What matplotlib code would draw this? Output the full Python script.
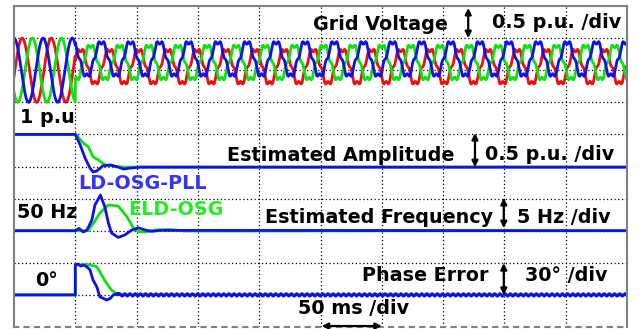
import numpy as np
import matplotlib.pyplot as plt

# all coordinates in scope divisions (10 x 10 grid), time 50 ms/div
t_fault = 1.0

# grid voltage (0.5 p.u./div, centre line at 8 div)
v_center = 8.0
v_period = 0.475            # div per cycle
v_amp_pre = 1.0
v_amp_post = 0.54
v_h5_post = -0.15           # 5th harmonic, relative to fundamental
v_names = ['red', 'green', 'blue']
v_lag = [0.28, 0.63, 0.0]   # cycles
v_dc_post = [0.11, 0.24, 0.35]
v_colors = ['#ee1010', '#10e010', '#1010e8']

# estimated amplitude (1 p.u. at 6 div, 0.5 p.u./div)
amp_t_green = [0, 1.0, 1.02, 1.13, 1.21, 1.29, 1.38, 1.48, 1.62, 1.8, 10]
amp_v_green = [6.0, 6.0, 5.98, 5.73, 5.62, 5.30, 5.20, 5.05, 5.01, 4.98, 4.98]
amp_t_blue = [0, 1.0, 1.08, 1.16, 1.24, 1.29, 1.35, 1.45, 1.57, 1.70, 1.79, 1.89, 2.06, 10]
amp_v_blue = [6.0, 6.0, 5.67, 5.26, 4.95, 4.83, 4.86, 5.02, 5.05, 4.98, 4.92, 4.95, 4.98, 4.98]

# estimated frequency (50 Hz at 3 div, 5 Hz/div)
freq_t_green = [0, 1.0, 1.21, 1.31, 1.40, 1.54, 1.70, 1.84, 1.95, 2.03, 2.14, 2.30, 2.54, 2.79, 10]
freq_v_green = [3.0, 3.0, 3.0, 3.27, 3.55, 3.80, 3.77, 3.44, 3.08, 2.97, 2.96, 3.02, 3.04, 2.99, 3.0]
freq_t_blue = [0, 1.0, 1.06, 1.13, 1.19, 1.27, 1.32, 1.41, 1.48, 1.54, 1.59, 1.70, 1.81,
               1.92, 2.03, 2.14, 2.25, 2.38, 10]
freq_v_blue = [3.0, 3.0, 3.07, 2.96, 3.02, 3.33, 3.80, 4.11, 3.75, 3.24, 2.93, 2.79, 2.87,
               3.02, 3.09, 3.02, 2.98, 3.01, 3.0]

# phase error (0 deg at 1 div, 30 deg/div)
ph_t_green = [0, 1.0, 1.0, 1.19, 1.35, 1.43, 1.51, 1.59, 1.68, 1.81, 10]
ph_v_green = [1.0, 1.0, 1.93, 1.95, 1.88, 1.62, 1.36, 1.15, 1.03, 1.01, 1.0]
ph_t_blue = [0, 1.0, 1.0, 1.04, 1.09, 1.14, 1.19, 1.24, 1.29, 1.35, 1.40, 1.46, 1.51,
             1.57, 1.62, 1.70]
ph_v_blue = [1.0, 1.0, 1.93, 1.96, 1.90, 1.93, 1.87, 1.78, 1.46, 1.26, 0.94, 0.89, 0.84,
             0.89, 1.0, 1.05]
ph_ripple_amp = 0.04
ph_ripple_period = 0.085

fig = plt.figure(figsize=(6.43, 3.29), dpi=100)
ax = fig.add_axes([14/643, 2/329, 613/643, 321/329])
ax.set_xlim(0, 10)
ax.set_ylim(0, 10)
ax.set_xticks(np.arange(1, 10))
ax.set_yticks(np.arange(1, 10))
ax.tick_params(length=0, labelbottom=False, labelleft=False)
ax.grid(True, color='black', linestyle=(0, (1, 2)), linewidth=0.9)
for side in ['left', 'top', 'bottom']:
    ax.spines[side].set_color('gray')
    ax.spines[side].set_linestyle((0, (1, 1)))
    ax.spines[side].set_linewidth(1.5)
ax.spines['bottom'].set_linestyle((0, (2, 3)))
ax.spines['right'].set_color('gray')
ax.spines['right'].set_linewidth(1.5)

# grid voltage
t = np.linspace(0, 10, 6000)
for lag, dc, col in zip(v_lag, v_dc_post, v_colors):
    th = 2*np.pi*(t/v_period - lag)
    pre = v_amp_pre*np.cos(th)
    post = dc + v_amp_post*(np.cos(th) + v_h5_post*np.cos(5*th))
    ax.plot(t, v_center + np.where(t < t_fault, pre, post), color=col, lw=2.0)

lw = 2.0
ax.plot(amp_t_green, amp_v_green, color=v_colors[1], lw=lw)
ax.plot(amp_t_blue, amp_v_blue, color=v_colors[2], lw=lw)
ax.plot(freq_t_green, freq_v_green, color=v_colors[1], lw=lw)
ax.plot(freq_t_blue, freq_v_blue, color=v_colors[2], lw=lw)
ax.plot(ph_t_green, ph_v_green, color=v_colors[1], lw=lw)
tr = np.linspace(ph_t_blue[-1], 10, 2000)
ripple = 1.0 + ph_ripple_amp*np.sin(2*np.pi*tr/ph_ripple_period)
ax.plot(ph_t_blue + list(tr), ph_v_blue + list(ripple), color=v_colors[2], lw=lw)

# labels
fnt = dict(family=['DejaVu Sans'], weight='bold', fontsize=13.8, va='baseline')
ax.text(4.88, 9.25, 'Grid Voltage', **fnt)
ax.text(7.80, 9.31, '0.5 p.u. /div', **fnt)
ax.text(0.10, 6.35, '1 p.u', **fnt)
ax.text(3.47, 5.17, 'Estimated Amplitude', **fnt)
ax.text(7.68, 5.20, '0.5 p.u. /div', **fnt)
ax.text(1.04, 4.30, 'LD-OSG-PLL', color='#3535ee', **fnt)
ax.text(1.86, 3.49, 'ELD-OSG', color='#22ee22', **fnt)
ax.text(0.05, 3.40, '50 Hz', **fnt)
ax.text(4.09, 3.24, 'Estimated Frequency', **fnt)
ax.text(8.21, 3.24, '5 Hz /div', **fnt)
ax.text(0.34, 1.28, '0°', **fnt)
ax.text(5.68, 1.44, 'Phase Error', **fnt)
ax.text(8.34, 1.44, '30° /div', **fnt)
ax.text(4.63, 0.40, '50 ms /div', **fnt)

arr = dict(arrowstyle='<|-|>', color='black', lw=1.6, mutation_scale=9, shrinkA=0, shrinkB=0)
for (x0, y0, x1, y1) in [(7.41, 9.94, 7.41, 9.0), (7.52, 6.04, 7.52, 4.98),
                         (7.99, 4.02, 7.99, 3.08), (7.99, 1.99, 7.99, 1.0),
                         (5.02, 0.03, 6.0, 0.03)]:
    ax.annotate('', xy=(x1, y1), xytext=(x0, y0), arrowprops=arr, annotation_clip=False)

fig.savefig('out.png', dpi=100)
